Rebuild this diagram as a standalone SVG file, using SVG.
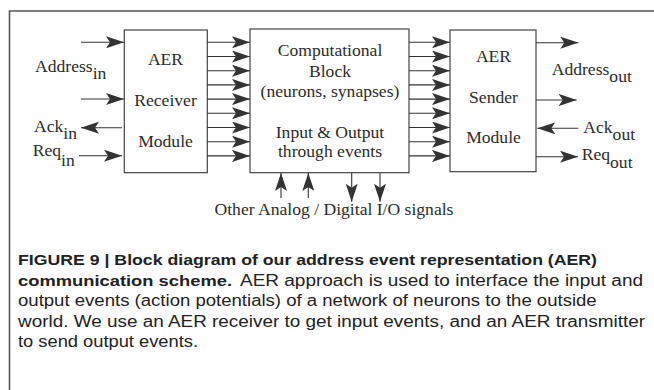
<svg xmlns="http://www.w3.org/2000/svg" width="654" height="390" viewBox="0 0 654 390">
<defs>
<marker id="ah" viewBox="0 -6 18 12" refX="18" refY="0" markerWidth="18" markerHeight="12" markerUnits="userSpaceOnUse" orient="auto">
<path d="M0,-6 L18,0 L0,6 L4,0 Z" fill="#333"/>
</marker>
<style>
.box{fill:#fff;stroke:#444;stroke-width:1.2}
.t{font-family:"Liberation Serif","Times New Roman",serif;font-size:17.6px;fill:#2b2b2b}
.c{stroke:#333;stroke-width:1.1;fill:none;marker-end:url(#ah)}
.cap{font-family:"Liberation Sans",Arial,sans-serif;font-size:16px;fill:#222}
.b{font-weight:bold;font-size:15.5px}
</style>
</defs>
<rect width="654" height="390" fill="#fff"/>
<path d="M9.5,390 V11 H654" fill="none" stroke="#555" stroke-width="1.6"/>

<g id="receiver">
<rect class="box" x="124.3" y="30" width="83" height="142.7"/>
<text class="t" x="165.5" y="65" text-anchor="middle">AER</text>
<text class="t" x="165.5" y="106" text-anchor="middle">Receiver</text>
<text class="t" x="165.5" y="146.7" text-anchor="middle">Module</text>
</g>

<g id="computational">
<rect class="box" x="250" y="29" width="159" height="143.7"/>
<text class="t" x="330" y="55.7" text-anchor="middle">Computational</text>
<text class="t" x="330" y="76.7" text-anchor="middle">Block</text>
<text class="t" x="330" y="97" text-anchor="middle">(neurons, synapses)</text>
<text class="t" x="330" y="138.3" text-anchor="middle">Input &amp; Output</text>
<text class="t" x="330" y="157.3" text-anchor="middle">through events</text>
</g>

<g id="sender">
<rect class="box" x="450" y="30" width="86" height="141.7"/>
<text class="t" x="493.5" y="61.7" text-anchor="middle">AER</text>
<text class="t" x="493.5" y="102.7" text-anchor="middle">Sender</text>
<text class="t" x="493.5" y="143.3" text-anchor="middle">Module</text>
</g>

<g id="labels">
<text class="t" x="35" y="72.3">Address<tspan dy="7">in</tspan></text>
<text class="t" x="34" y="131.7">Ack<tspan dy="7">in</tspan></text>
<text class="t" x="32.7" y="156">Req<tspan dy="10">in</tspan></text>
<text class="t" x="551.7" y="75">Address<tspan dy="7">out</tspan></text>
<text class="t" x="583.3" y="133.3">Ack<tspan dy="7">out</tspan></text>
<text class="t" x="581.7" y="160">Req<tspan dy="8">out</tspan></text>
<text class="t" x="334" y="215" text-anchor="middle">Other Analog / Digital I/O signals</text>
</g>

<g id="connectors">
<path class="c" d="M81,42.3 H124"/>
<path class="c" d="M81,99 H124"/>
<path class="c" d="M122,127.7 H81"/>
<path class="c" d="M79,155.7 H122"/>

<path class="c" d="M207.3,42.3 H250"/>
<path class="c" d="M207.3,56.5 H250"/>
<path class="c" d="M207.3,70.7 H250"/>
<path class="c" d="M207.3,84.9 H250"/>
<path class="c" d="M207.3,99.1 H250"/>
<path class="c" d="M207.3,113.3 H250"/>
<path class="c" d="M207.3,127.5 H250"/>
<path class="c" d="M207.3,141.7 H250"/>
<path class="c" d="M207.3,155.9 H250"/>

<path class="c" d="M409,42.3 H450"/>
<path class="c" d="M409,56.5 H450"/>
<path class="c" d="M409,70.7 H450"/>
<path class="c" d="M409,84.9 H450"/>
<path class="c" d="M409,99.1 H450"/>
<path class="c" d="M409,113.3 H450"/>
<path class="c" d="M409,127.5 H450"/>
<path class="c" d="M409,141.7 H450"/>
<path class="c" d="M409,155.9 H450"/>

<path class="c" d="M536,42.7 H578.3"/>
<path class="c" d="M536,100 H576.7"/>
<path class="c" d="M578.3,128.3 H537.3"/>
<path class="c" d="M536,156.7 H578"/>

<path class="c" d="M281,198 V173"/>
<path class="c" d="M308.3,198 V173"/>
<path class="c" d="M351.7,173 V201.7"/>
<path class="c" d="M380,173 V201.7"/>
</g>

<g id="caption">
<text class="cap b" x="18" y="265" textLength="579" lengthAdjust="spacingAndGlyphs">FIGURE 9 | Block diagram of our address event representation (AER)</text>
<text class="cap b" x="18" y="285.5" textLength="214" lengthAdjust="spacingAndGlyphs">communication scheme.</text>
<text class="cap" x="240" y="285.5" textLength="403" lengthAdjust="spacingAndGlyphs">AER approach is used to interface the input and</text>
<text class="cap" x="18" y="306" textLength="578.7" lengthAdjust="spacingAndGlyphs">output events (action potentials) of a network of neurons to the outside</text>
<text class="cap" x="18" y="326.5" textLength="627" lengthAdjust="spacingAndGlyphs">world. We use an AER receiver to get input events, and an AER transmitter</text>
<text class="cap" x="18" y="347" textLength="180" lengthAdjust="spacingAndGlyphs">to send output events.</text>
</g>
</svg>
